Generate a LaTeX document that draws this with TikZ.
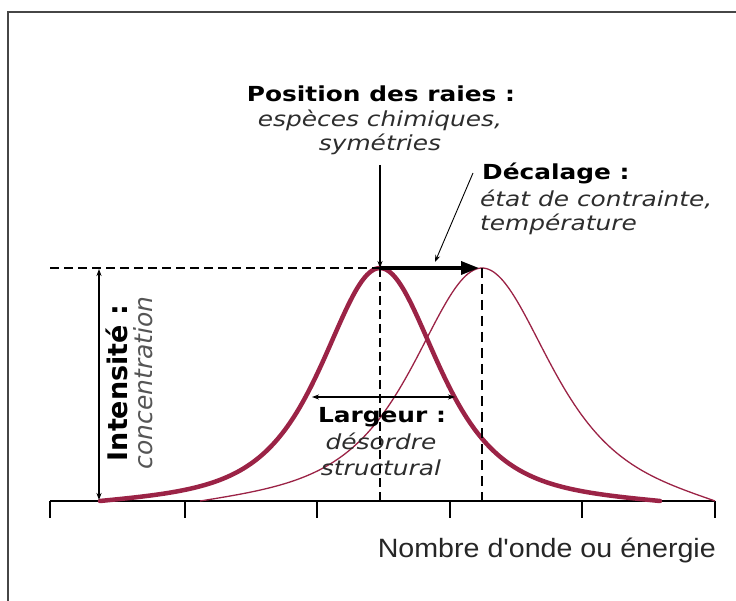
\documentclass[tikz,border=0pt]{standalone}
\usepackage{fontspec}
\usetikzlibrary{arrows.meta}
\newfontfamily\vfont[FakeStretch=1.2]{DejaVu Sans}
\newfontfamily\rfont{DejaVu Sans}
\newfontfamily\afont[FakeStretch=1.08]{Liberation Sans}
\definecolor{crim}{RGB}{155,35,70}
\definecolor{itgray}{RGB}{45,45,45}
\definecolor{lgray}{RGB}{85,85,85}
\definecolor{framegray}{RGB}{70,70,70}
\tikzset{
  declare function={
    pv(\d,\w)=1/((1+0.414*(\d/\w)*(\d/\w))*(1+0.414*(\d/\w)*(\d/\w)));
    tp(\d,\D)=((\d/\D)*(\d/\D))*((\d/\D)*(\d/\D));
  },
  boldlbl/.style={inner sep=0pt,anchor=base,font=\vfont\bfseries\fontsize{20.7}{25}\selectfont,text=black},
  itlbl/.style={inner sep=0pt,anchor=base,font=\vfont\itshape\fontsize{20.7}{25}\selectfont,text=itgray},
  guide/.style={dashed,dash pattern=on 9pt off 5pt,line width=1.1pt,black},
  thinarrow/.style={line width=1.1pt,-{Stealth[length=7pt,width=5pt]}},
  dblarrow/.style={line width=1.1pt,{Stealth[length=7pt,width=5pt]}-{Stealth[length=7pt,width=5pt]}},
  bigarrow/.style={line width=3.5pt,-{Triangle[length=18pt,width=13pt]}},
  peakthick/.style={crim,line width=4.5pt,line cap=round},
  peakthin/.style={crim,line width=1.3pt},
}
\begin{document}
\begin{tikzpicture}[x=1pt,y=-1pt]
\useasboundingbox (0,0) rectangle (736,601);
% frame
\draw[framegray,line width=2pt] (8,601) -- (8,12) -- (736,12);
% axis
\coordinate (ax0) at (50,501);
\coordinate (ax1) at (715,501);
\draw[line width=1.4pt] (ax0) -- (ax1);
\foreach \t in {50,185,317,450,582,715} \draw[line width=1.4pt] (\t,501) -- (\t,518);
\node[inner sep=0pt,anchor=base east,font=\afont\fontsize{26.5}{30}\selectfont,text=black!85] (axlbl) at (716,557) {Nombre d'onde ou énergie};
% key points
\coordinate (pkA) at (380,268);
\coordinate (pkB) at (482,268);
\coordinate (baseA) at (380,501);
\coordinate (baseB) at (482,501);
\coordinate (hl) at (50,268);
% peaks
\draw[peakthin] plot[domain=200:482,samples=100,smooth]
  (\x,{501-233*(pv(\x-482,80)-0.0266*tp(\x-482,282))});
\draw[peakthin] plot[domain=482:715,samples=100,smooth]
  (\x,{501-233*(pv(\x-482,80)-0.049*tp(\x-482,233))});
\draw[peakthick] plot[domain=100:660,samples=200,smooth]
  (\x,{501-233*(pv(\x-380,68)-0.0155*tp(\x-380,280))});
% guides
\draw[guide] (hl) -- (pkA);
\draw[guide] (pkA) -- (baseA);
\draw[guide,dash pattern=on 10pt off 6pt] (pkB) -- (baseB);
% shift arrow
\draw[bigarrow] (pkA) -- ([xshift=-3pt]pkB);
% intensity
\coordinate (intTop) at (99,269);
\coordinate (intBot) at (99,500);
\draw[dblarrow] (intBot) -- (intTop);
\node[inner sep=0pt,anchor=base,rotate=90,font=\rfont\bfseries\fontsize{27}{30}\selectfont] (int1) at (127,383) {Intensité :};
\node[inner sep=0pt,anchor=base,rotate=90,font=\rfont\itshape\fontsize{25}{30}\selectfont,text=lgray] (int2) at (152,383) {concentration};
% width
\coordinate (larL) at (312,397);
\coordinate (larR) at (455,397);
\draw[dblarrow] (larL) -- (larR);
\node[boldlbl] (lar1) at (382,422) {Largeur :};
\node[itlbl] (lar2) at (381,449) {désordre};
\node[itlbl] (lar3) at (381,475) {structural};
% position
\node[boldlbl] (pos1) at (381,102) {Position des raies :};
\node[itlbl] (pos2) at (380,127) {espèces chimiques,};
\node[itlbl] (pos3) at (380,151) {symétries};
\coordinate (posTop) at (380,165);
\draw[thinarrow] (posTop) -- (pkA);
% decalage
\node[boldlbl,anchor=base west] (dec1) at (482,180) {Décalage :};
\node[itlbl,anchor=base west] (dec2) at (480,207) {état de contrainte,};
\node[itlbl,anchor=base west] (dec3) at (480,231) {température};
\coordinate (decS) at (473,173);
\coordinate (decE) at (435,262);
\draw[thinarrow,line width=0.9pt] (decS) -- (decE);
\end{tikzpicture}
\end{document}
